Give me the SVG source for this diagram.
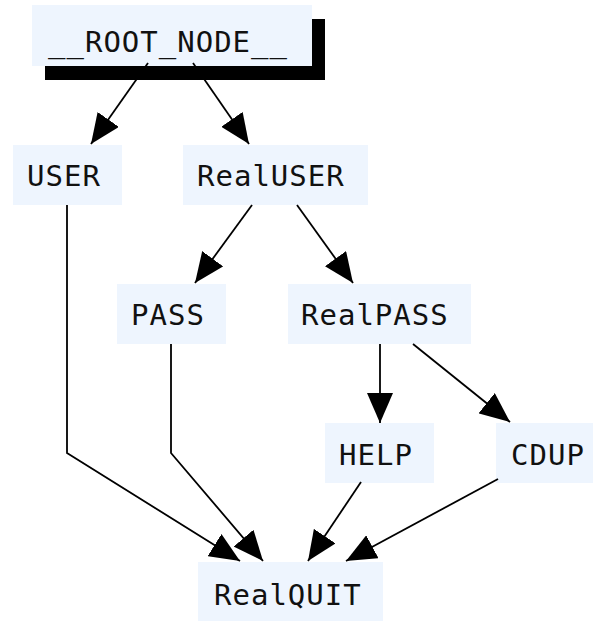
<svg xmlns="http://www.w3.org/2000/svg" width="593" height="621" viewBox="0 0 593 621">
<style>
.box{fill:#eef5fe}
.lbl{font-family:"DejaVu Sans Mono","Liberation Mono",monospace;font-size:29px;letter-spacing:1px;fill:#111}
.edge{fill:none;stroke:#000;stroke-width:1.8}
</style>
<defs>
<marker id="ah" markerUnits="userSpaceOnUse" markerWidth="30" markerHeight="26" refX="30" refY="13" orient="auto" viewBox="0 0 30 26">
<path d="M0,0 L30,13 L0,26 z" fill="#000"/>
</marker>
</defs>
<rect width="593" height="621" fill="#fff"/>
<g id="ROOT">
<rect x="45" y="19" width="280" height="61" fill="#000"/>
<rect class="box" x="32" y="5" width="280" height="61"/>
<text class="lbl" x="48" y="52">__ROOT_NODE__</text>
</g>
<g id="USER"><rect class="box" x="13" y="145" width="109" height="60"/><text class="lbl" x="27" y="186">USER</text></g>
<g id="RealUSER"><rect class="box" x="183" y="145" width="185" height="60"/><text class="lbl" x="197" y="186">RealUSER</text></g>
<g id="PASS"><rect class="box" x="117" y="284" width="109" height="60"/><text class="lbl" x="131" y="325">PASS</text></g>
<g id="RealPASS"><rect class="box" x="288" y="284" width="183" height="60"/><text class="lbl" x="301" y="325">RealPASS</text></g>
<g id="HELP"><rect class="box" x="325" y="423" width="109" height="60"/><text class="lbl" x="339" y="465">HELP</text></g>
<g id="CDUP"><rect class="box" x="496" y="423" width="109" height="60"/><text class="lbl" x="511" y="465">CDUP</text></g>
<g id="RealQUIT"><rect class="box" x="198" y="562" width="185" height="60"/><text class="lbl" x="214" y="605">RealQUIT</text></g>
<g id="connectors">
<path class="edge" marker-end="url(#ah)" d="M148,63 L91,144"/>
<path class="edge" marker-end="url(#ah)" d="M193,63 L249,144"/>
<path class="edge" marker-end="url(#ah)" d="M252,205 L195,283"/>
<path class="edge" marker-end="url(#ah)" d="M297,205 L353,283"/>
<path class="edge" marker-end="url(#ah)" d="M380,344 L380,423"/>
<path class="edge" marker-end="url(#ah)" d="M413,344 L510,422"/>
<path class="edge" marker-end="url(#ah)" d="M67,205 L67,453 L240,561"/>
<path class="edge" marker-end="url(#ah)" d="M171,344 L171,453 L263,561"/>
<path class="edge" marker-end="url(#ah)" d="M361,482 L308,561"/>
<path class="edge" marker-end="url(#ah)" d="M498,479 L346,561"/>
</g>
</svg>
